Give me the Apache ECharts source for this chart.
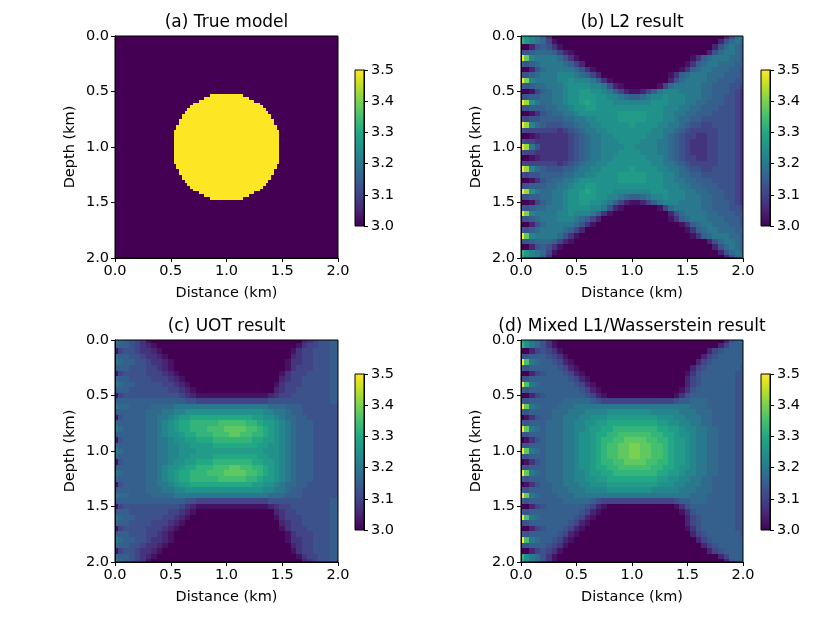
<!DOCTYPE html>
<html>
<head>
<meta charset="utf-8">
<title>Inversion results</title>
<script src="https://cdn.jsdelivr.net/npm/echarts@6/dist/echarts.min.js"></script>
<style>
html, body { margin: 0; padding: 0; background: #fff; }
#main { width: 830px; height: 623px; }
</style>
</head>
<body>
<div id="main"></div>
<script>
var axisTicks = [0.0, 0.5, 1.0, 1.5, 2.0];          // km, both axes
var barTicks = [3.0, 3.1, 3.2, 3.3, 3.4, 3.5];       // colorbar
var titles = ['(a) True model', '(b) L2 result', '(c) UOT result', '(d) Mixed L1/Wasserstein result'];

// true model: background velocity and the disc, row by row (0.025 km rows)
var trueBackground = 3.0;
var trueAnomaly = 3.5;
var trueRowHeight = 0.025;
var trueRowTop = [0.525, 0.55, 0.575, 0.6, 0.625, 0.65, 0.675, 0.7, 0.725, 0.75, 0.775, 0.8, 0.825, 0.85, 0.875, 0.9, 0.925, 0.95, 0.975,
                  1.0, 1.025, 1.05, 1.075, 1.1, 1.125, 1.15, 1.175, 1.2, 1.225, 1.25, 1.275, 1.3, 1.325, 1.35, 1.375, 1.4, 1.425, 1.45];
var trueRowLeft = [0.85, 0.8, 0.75, 0.7, 0.675, 0.65, 0.625, 0.6, 0.6, 0.575, 0.575, 0.55, 0.55, 0.525, 0.525, 0.525, 0.525, 0.525, 0.525,
                   0.525, 0.525, 0.525, 0.525, 0.525, 0.525, 0.55, 0.55, 0.575, 0.575, 0.6, 0.6, 0.625, 0.65, 0.675, 0.7, 0.75, 0.8, 0.85];
var trueRowRight = [1.15, 1.2, 1.25, 1.3, 1.325, 1.35, 1.375, 1.4, 1.4, 1.425, 1.425, 1.45, 1.45, 1.475, 1.475, 1.475, 1.475, 1.475, 1.475,
                    1.475, 1.475, 1.475, 1.475, 1.475, 1.475, 1.45, 1.45, 1.425, 1.425, 1.4, 1.4, 1.375, 1.35, 1.325, 1.3, 1.25, 1.2, 1.15];

// inverted models sampled every 0.05 km (41 x 41), one string per depth row.
// each char is a level: '0' = 3.000 ... 'k' = 3.500, steps of 0.025
var gridStep = 0.05;
var levelChars = '0123456789abcdefghijk';
var levelBase = 3.0, levelStep = 0.025;

var l2Rows = [
  'ca98630000 0000000000 0000000000 0000000257 8',
  'db98741000 0000000000 0000000000 0000002578 7',
  '0025653100 0000000000 0000000000 0000025787 6',
  '5567776421 0000000000 0000000000 0000257887 6',
  'kf98888753 1000000000 0000000000 0136788877 6',
  '6567888876 4200000000 0000000000 1367887776 6',
  '0025788888 7531000000 0000000001 3678877766 5',
  '5567888999 8764200000 0000000136 7888777666 5',
  'kg9888899a 9998631000 0000000257 8888776665 5',
  '656778889a aaa9985210 0000014788 8887766655 4',
  '001467889a abbaa98642 1124689998 8887766654 3',
  '556677889a abbbaa9987 667899a999 8887766554 3',
  'kha877889a abcbaaa999 9999aaa999 8877666554 3',
  '5566677889 aabbaaaaaa aaaaaa9998 8776665554 3',
  '0013567788 9aaaaaaabb bbbaaa9988 7766655554 3',
  '5455666677 8899aaaabb bbbaaa9987 7665555554 3',
  'kh97655566 78899aaaaa baaaa99887 6554455554 3',
  '5444444345 678899aaaa aaaa998876 5444445554 3',
  '0012333334 5678899aaa aaa9998765 4433445554 3',
  '5443333334 56788999aa aa99988765 4333445554 3',
  'kh85333334 567889999a a999988765 4333445554 3',
  '5443333334 56788999aa aa99988765 4333445554 3',
  '0012333334 5678899aaa aaa9998765 4433445554 3',
  '5444444345 678899aaaa aaaa998876 5444445554 3',
  'kh97655566 78899aaaaa baaaa99887 6554455554 3',
  '5455666677 8899aaaabb bbbaaa9987 7665555554 3',
  '0013567788 9aaaaaaabb bbbaaa9988 7766655554 3',
  '5566677889 aabbaaaaaa aaaaaa9998 8776665554 3',
  'kha877889a abcbaaa999 9999aaa999 8877666554 3',
  '556677889a abbbaa9987 667899a999 8887766554 3',
  '001467889a abbaa98642 1124689998 8887766654 3',
  '656778889a aaa9985210 0000014788 8887766655 4',
  'kg9888899a 9998631000 0000000257 8888776665 5',
  '5567888999 8764200000 0000000136 7888777666 5',
  '0025788888 7531000000 0000000001 3678877766 5',
  '6567888876 4200000000 0000000000 1367887776 6',
  'kf98888753 1000000000 0000000000 0136788877 6',
  '5567776421 0000000000 0000000000 0000257887 6',
  '0025653100 0000000000 0000000000 0000025787 6',
  'db98741000 0000000000 0000000000 0000002578 7',
  'ca98630000 0000000000 0000000000 0000000257 8'
];

var uotRows = [
  '8765431000 0000000000 0000000000 0000234556 6',
  '7665432100 0000000000 0000000000 0001344556 6',
  '1455433210 0000000000 0000000000 0013445556 6',
  '7665543321 0000000000 0000000000 0023445556 6',
  '8766554332 1000000000 0000000000 0133445556 6',
  '6665554432 1000000000 0000000000 0134445556 6',
  '1455554443 2100000000 0000000000 1344455556 6',
  '7665555444 3210000000 0000000000 2344555556 6',
  '8766555554 4321000000 0000000001 3444555556 6',
  '6665555555 4432100000 0000000002 3445555556 6',
  '1455555555 5543211111 1111111123 4455555556 6',
  '6666666666 6665544444 4444444455 5555555556 6',
  '8776666777 7888888888 8888888877 7666555555 5',
  '6666667778 899aaaaaaa aaaaaaa998 8766555555 5',
  '1566667788 9abbcccccc cccccbbaa9 8776655555 5',
  '7666667789 abccddddde eeeeddcbba 9876665555 5',
  '8766667789 abccdddeee ffffeedcba 9876665555 5',
  '6666667789 aabccdddee effeeddcba 9876665555 5',
  '1566667788 9aabbcccdd dddddccbba 9876665555 5',
  '7666667788 99aabbbbcc ccccccbbaa 9876665555 5',
  '8766667788 99aaabbbbb bbbbbbbaaa 9876665555 5',
  '7666667788 99aabbbbcc ccccccbbaa 9876665555 5',
  '1566667788 9aabbcccdd dddddccbba 9876665555 5',
  '6666667789 aabccdddee effeeddcba 9876665555 5',
  '8766667789 abccdddeee ffffeedcba 9876665555 5',
  '7666667789 abccddddde eeeeddcbba 9876665555 5',
  '1566667788 9abbcccccc cccccbbaa9 8776655555 5',
  '6666667778 899aaaaaaa aaaaaaa998 8766555555 5',
  '8776666777 7888888888 8888888877 7666555555 5',
  '6666666666 6665544444 4444444455 5555555556 6',
  '1455555555 5543211111 1111111123 4455555556 6',
  '6665555555 4432100000 0000000002 3445555556 6',
  '8766555554 4321000000 0000000001 3444555556 6',
  '7665555444 3210000000 0000000000 2344555556 6',
  '1455554443 2100000000 0000000000 1344455556 6',
  '6665554432 1000000000 0000000000 0134445556 6',
  '8766554332 1000000000 0000000000 0133445556 6',
  '7665543321 0000000000 0000000000 0023445556 6',
  '1455433210 0000000000 0000000000 0013445556 6',
  '7665432100 0000000000 0000000000 0001344556 6',
  '8765431000 0000000000 0000000000 0000234556 6'
];

var mixedRows = [
  'ca87531000 0000000000 0000000000 0000000256 7',
  'da87531000 0000000000 0000000000 0000002466 6',
  '0024543100 0000000000 0000000000 0000245666 6',
  '5566654310 0000000000 0000000000 0002456666 6',
  'ke87665421 0000000000 0000000000 0024566666 6',
  '6566666542 1000000000 0000000000 0245666666 5',
  '0024566654 2100000000 0000000000 1356666665 5',
  '5566666665 4210000000 0000000000 2456666665 5',
  'ke87666666 5421000000 0000000000 2456666665 5',
  '6566666666 6542100000 0000000001 3566666665 5',
  '0024566666 6654210000 0000000013 5666666665 5',
  '6566666677 7776544444 4444444456 6777666665 5',
  'kf87666777 8888888888 8888888888 8777666665 5',
  '6566667778 889999aaaa aaaa999998 8877766665 5',
  '0135667788 899aaabbbb bbbbbaaa99 8887766665 5',
  '6566677788 99aabbcccc cccccbbaa9 9887766665 5',
  'kf87677788 99abbccddd dddddccbba 9988776665 5',
  '6566677788 9aabccddee eeeeddccba a988776665 5',
  '0135677788 9aabcddeef fffeeddcbb a988776665 5',
  '6566677788 9aabcdeeff ggffeedcbb a988776665 5',
  'kf87677788 9aabcdeeff ggffeedcbb a988776665 5',
  '6566677788 9aabcdeeff ggffeedcbb a988776665 5',
  '0135677788 9aabcddeef fffeeddcbb a988776665 5',
  '6566677788 9aabccddee eeeeddccba a988776665 5',
  'kf87677788 99abbccddd dddddccbba 9988776665 5',
  '6566677788 99aabbcccc cccccbbaa9 9887766665 5',
  '0135667788 899aaabbbb bbbbbaaa99 8887766665 5',
  '6566667778 889999aaaa aaaa999998 8877766665 5',
  'kf87666777 8888888888 8888888888 8777666665 5',
  '6566666677 7776544444 4444444456 6777666665 5',
  '0024566666 6654210000 0000000013 5666666665 5',
  '6566666666 6542100000 0000000001 3566666665 5',
  'ke87666666 5421000000 0000000000 2456666665 5',
  '5566666665 4210000000 0000000000 2456666665 5',
  '0024566654 2100000000 0000000000 1356666665 5',
  '6566666542 1000000000 0000000000 0245666666 5',
  'ke87665421 0000000000 0000000000 0024566666 6',
  '5566654310 0000000000 0000000000 0002456666 6',
  '0024543100 0000000000 0000000000 0000245666 6',
  'da87531000 0000000000 0000000000 0000002466 6',
  'ca87531000 0000000000 0000000000 0000000256 7'
];

var viridis = ['#440154', '#482475', '#414487', '#355f8d', '#2a788e', '#21918c',
               '#22a884', '#44bf70', '#7ad151', '#bddf26', '#fde725'];

var font = 'DejaVu Sans';
var panels = [
  { left: 115, top: 36, width: 223, height: 222 },
  { left: 521, top: 36, width: 222, height: 222 },
  { left: 115, top: 340, width: 223, height: 222 },
  { left: 521, top: 340, width: 222, height: 222 }
];
var bars = [
  { left: 355, top: 70, width: 9, height: 156 },
  { left: 761, top: 70, width: 9, height: 156 },
  { left: 355, top: 374, width: 9, height: 156 },
  { left: 761, top: 374, width: 9, height: 156 }
];

// cells: [x0, x1, y0, y1, value]
function trueCells() {
  var cells = [[axisTicks[0], axisTicks[axisTicks.length - 1], axisTicks[0], axisTicks[axisTicks.length - 1], trueBackground]];
  for (var i = 0; i < trueRowTop.length; i++) {
    cells.push([trueRowLeft[i], trueRowRight[i], trueRowTop[i], trueRowTop[i] + trueRowHeight, trueAnomaly]);
  }
  return cells;
}

function gridCells(rows) {
  var cells = [];
  rows.forEach(function (row, i) {
    var levels = row.replace(/ /g, '');
    for (var j = 0; j < levels.length; j++) {
      var x = j * gridStep, y = i * gridStep;
      cells.push([x - gridStep / 2, x + gridStep / 2, y - gridStep / 2, y + gridStep / 2,
                  levelBase + levelStep * levelChars.indexOf(levels[j])]);
    }
  });
  return cells;
}

// snap edges to whole pixels so neighbouring cells meet without seams
function renderCell(params, api) {
  var a = api.coord([api.value(0), api.value(2)]);
  var b = api.coord([api.value(1), api.value(3)]);
  var cs = params.coordSys;
  var x0 = Math.round(Math.max(Math.min(a[0], b[0]), cs.x));
  var x1 = Math.round(Math.min(Math.max(a[0], b[0]), cs.x + cs.width));
  var y0 = Math.round(Math.max(Math.min(a[1], b[1]), cs.y));
  var y1 = Math.round(Math.min(Math.max(a[1], b[1]), cs.y + cs.height));
  if (x1 <= x0 || y1 <= y0) return;
  return {
    type: 'rect',
    shape: { x: x0, y: y0, width: x1 - x0, height: y1 - y0 },
    style: { fill: api.visual('color') }
  };
}

function renderBar(params, api) {
  var a = api.coord([api.value(0), api.value(2)]);
  var b = api.coord([api.value(1), api.value(3)]);
  var stops = viridis.map(function (c, i) { return { offset: i / (viridis.length - 1), color: c }; });
  return {
    type: 'rect',
    shape: { x: Math.min(a[0], b[0]), y: Math.min(a[1], b[1]), width: Math.abs(b[0] - a[0]), height: Math.abs(b[1] - a[1]) },
    style: { fill: new echarts.graphic.LinearGradient(0, 1, 0, 0, stops) }
  };
}

var black = '#000';
var tickLabel = { color: black, fontSize: 14.5, fontFamily: font };

var grids = [], xAxes = [], yAxes = [], series = [];
panels.forEach(function (p, i) {
  grids.push({ left: p.left, top: p.top, width: p.width, height: p.height, show: true,
               borderColor: black, borderWidth: 1, backgroundColor: 'transparent', z: 5 });
  xAxes.push({
    type: 'value', gridIndex: i, min: axisTicks[0], max: axisTicks[axisTicks.length - 1],
    interval: axisTicks[1] - axisTicks[0], z: 5,
    name: 'Distance (km)', nameLocation: 'middle', nameGap: 28,
    nameTextStyle: { color: black, fontSize: 14.5, fontFamily: font },
    axisLine: { show: true, onZero: false, lineStyle: { color: black, width: 1 } },
    axisTick: { show: true, inside: false, length: 4, lineStyle: { color: black } },
    axisLabel: Object.assign({ margin: 6, formatter: function (v) { return v.toFixed(1); } }, tickLabel),
    splitLine: { show: false }
  });
  yAxes.push({
    type: 'value', gridIndex: i, inverse: true, min: axisTicks[0], max: axisTicks[axisTicks.length - 1],
    interval: axisTicks[1] - axisTicks[0], z: 5,
    name: 'Depth (km)', nameLocation: 'middle', nameGap: 37,
    nameTextStyle: { color: black, fontSize: 14.5, fontFamily: font },
    axisLine: { show: true, onZero: false, lineStyle: { color: black, width: 1 } },
    axisTick: { show: true, inside: false, length: 4, lineStyle: { color: black } },
    axisLabel: Object.assign({ margin: 6, formatter: function (v) { return v.toFixed(1); } }, tickLabel),
    splitLine: { show: false }
  });
});

var panelData = [trueCells(), gridCells(l2Rows), gridCells(uotRows), gridCells(mixedRows)];
panelData.forEach(function (cells, i) {
  series.push({
    type: 'custom', xAxisIndex: i, yAxisIndex: i, renderItem: renderCell,
    encode: { x: [0, 1], y: [2, 3] }, data: cells, silent: true
  });
});

bars.forEach(function (b, i) {
  var g = panels.length + i;
  grids.push({ left: b.left, top: b.top, width: b.width, height: b.height, show: true,
               borderColor: black, borderWidth: 1, backgroundColor: 'transparent', z: 5 });
  xAxes.push({ type: 'value', gridIndex: g, min: 0, max: 1, show: false });
  yAxes.push({
    type: 'value', gridIndex: g, position: 'right', min: barTicks[0], max: barTicks[barTicks.length - 1],
    interval: 0.1, z: 5,
    axisLine: { show: true, onZero: false, lineStyle: { color: black, width: 1 } },
    axisTick: { show: true, inside: false, length: 4, lineStyle: { color: black } },
    axisLabel: Object.assign({ margin: 7, formatter: function (v) { return v.toFixed(1); } }, tickLabel),
    splitLine: { show: false }
  });
  series.push({
    type: 'custom', xAxisIndex: g, yAxisIndex: g, renderItem: renderBar,
    encode: { x: [0, 1], y: [2, 3] }, data: [[0, 1, barTicks[0], barTicks[barTicks.length - 1]]], silent: true
  });
});

var titleText = titles.map(function (t, i) {
  var p = panels[i];
  return {
    type: 'text', x: p.left + p.width / 2, y: p.top - 13,
    style: { text: t, fill: black, font: '17px "DejaVu Sans"', align: 'center', verticalAlign: 'middle' }
  };
});

var myChart = echarts.init(document.getElementById('main'));
myChart.setOption({
  animation: false,
  backgroundColor: '#fff',
  textStyle: { fontFamily: font },
  grid: grids,
  xAxis: xAxes,
  yAxis: yAxes,
  visualMap: {
    type: 'continuous', show: false, seriesIndex: [0, 1, 2, 3], dimension: 4,
    min: barTicks[0], max: barTicks[barTicks.length - 1], inRange: { color: viridis }
  },
  graphic: titleText,
  series: series
});
</script>
</body>
</html>
